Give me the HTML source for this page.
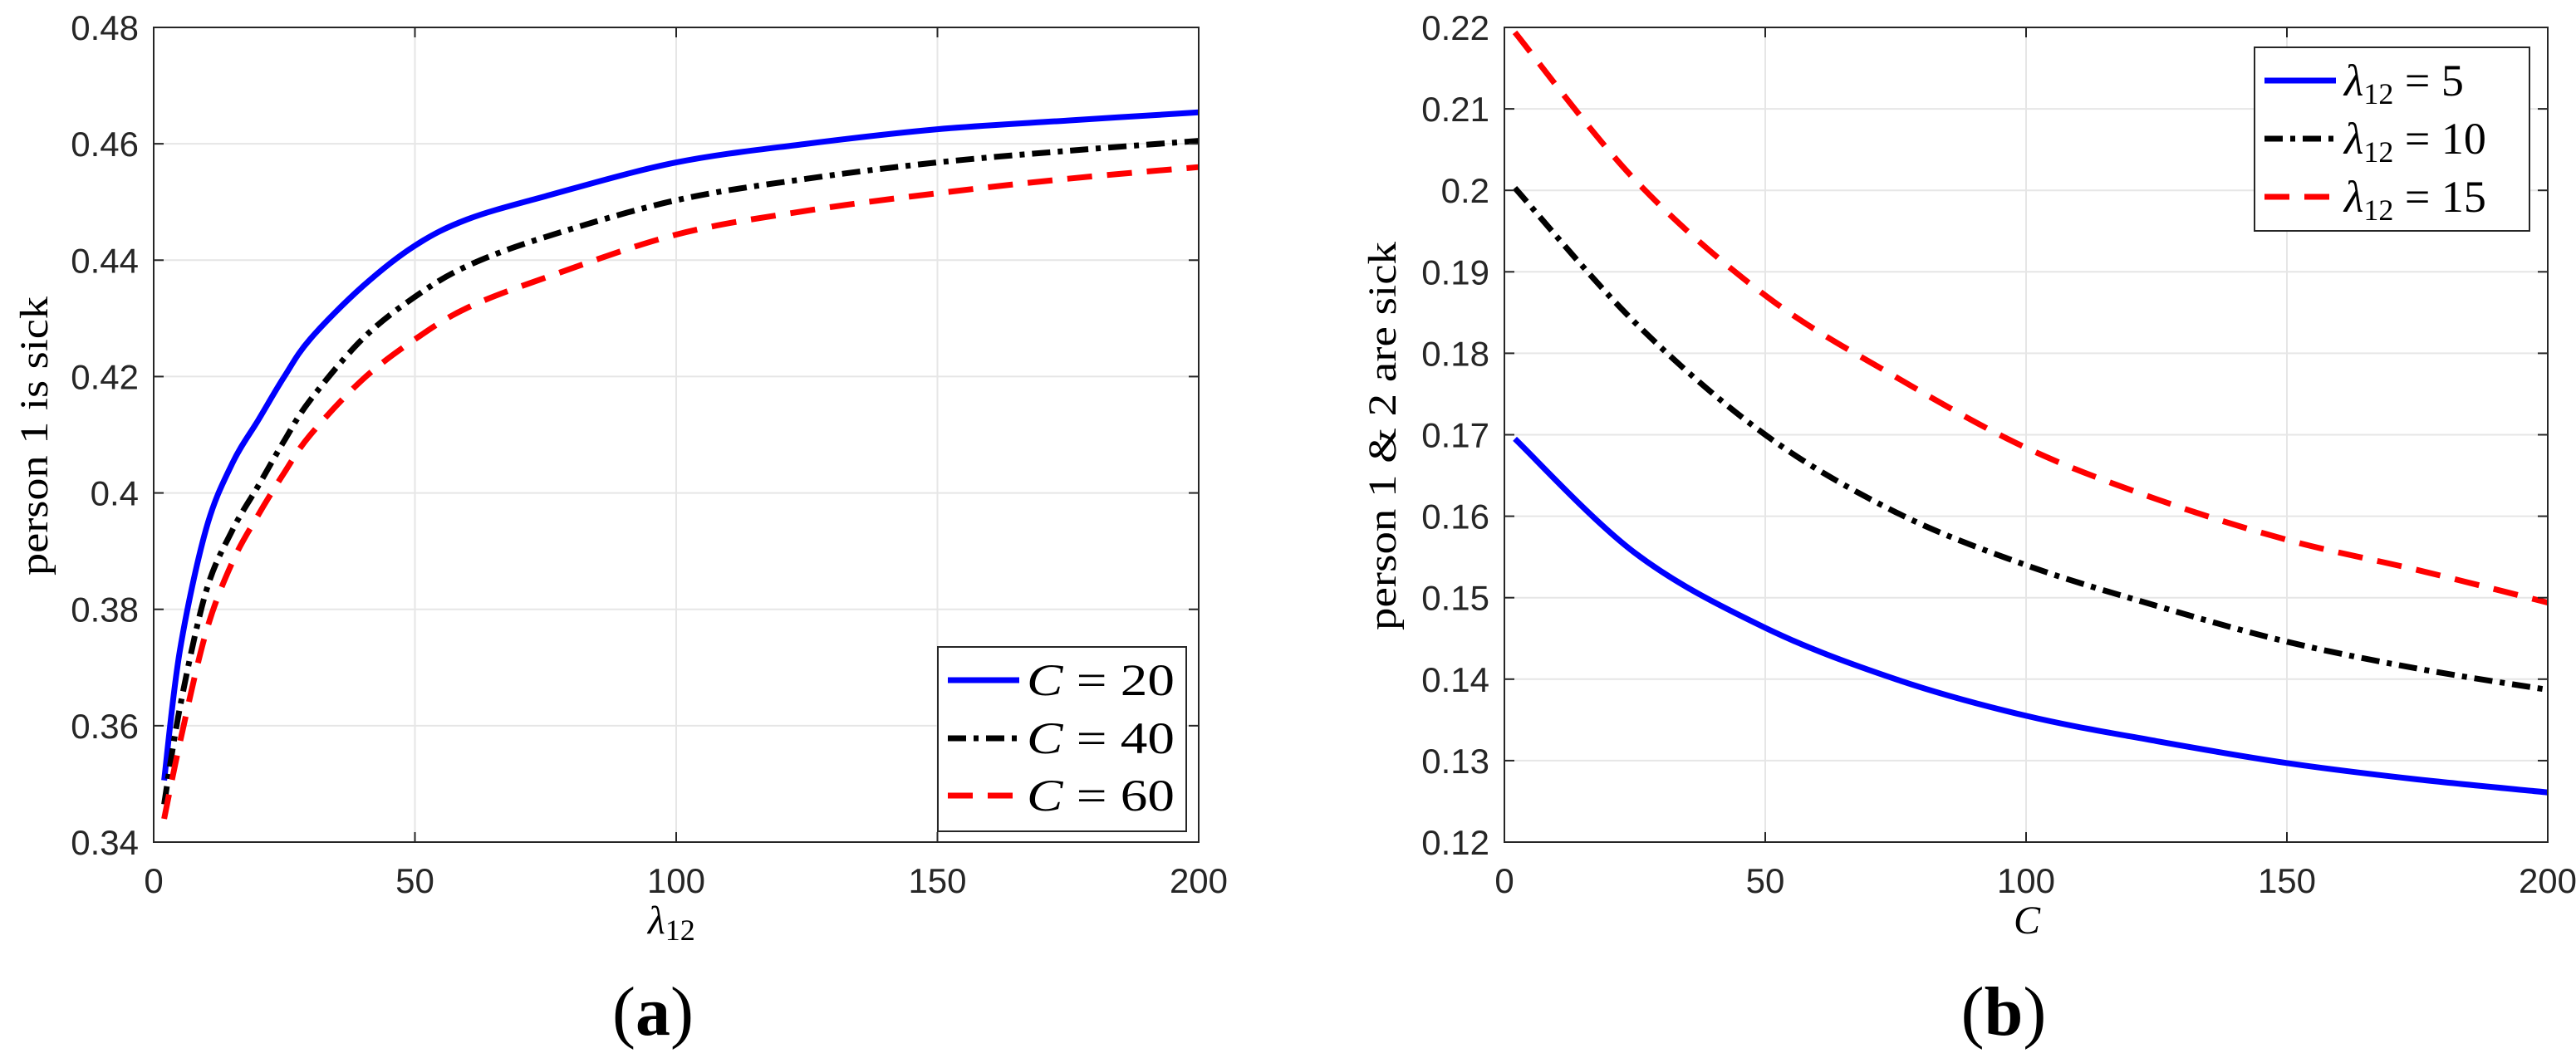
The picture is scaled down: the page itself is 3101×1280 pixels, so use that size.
<!DOCTYPE html>
<html><head><meta charset="utf-8"><style>
html,body{margin:0;padding:0;background:#fff;overflow:hidden;}
svg{display:block;}
.tick{font-family:"Liberation Sans",sans-serif;font-size:42px;fill:#262626;}
.lab{font-family:"Liberation Serif",serif;font-size:48px;fill:#000;}
.leg{font-family:"Liberation Serif",serif;font-size:54px;fill:#000;font-style:italic;}
.pan{font-family:"Liberation Serif",serif;font-size:84px;fill:#000;}
</style></head><body>
<div style="position:relative;width:3101px;height:1280px;">
<svg id="chart" width="3101" height="1280" viewBox="0 0 3101 1280" xmlns="http://www.w3.org/2000/svg" style="position:absolute;left:0;top:0"></svg>
<svg style="position:absolute;left:0;top:0" width="3101" height="1280" xmlns="http://www.w3.org/2000/svg">
  <g>
    <rect x="1129" y="779" width="299" height="222" fill="#fff" stroke="#262626" stroke-width="2"/>
    <line x1="1141" x2="1227" y1="819" y2="819" stroke="#0000ff" stroke-width="7"/>
    <line x1="1141" x2="1227" y1="889" y2="889" stroke="#000" stroke-width="7" stroke-dasharray="22 9 6 9"/>
    <line x1="1141" x2="1227" y1="958" y2="958" stroke="#ff0000" stroke-width="7" stroke-dasharray="30 18"/>
    <text class="leg" x="1236" y="837" textLength="178" lengthAdjust="spacingAndGlyphs">C <tspan font-style="normal">= 20</tspan></text>
    <text class="leg" x="1236" y="907" textLength="178" lengthAdjust="spacingAndGlyphs">C <tspan font-style="normal">= 40</tspan></text>
    <text class="leg" x="1236" y="976" textLength="178" lengthAdjust="spacingAndGlyphs">C <tspan font-style="normal">= 60</tspan></text>
  </g>
  <g>
    <rect x="2714" y="57" width="331" height="221" fill="#fff" stroke="#262626" stroke-width="2"/>
    <line x1="2726" x2="2812" y1="97" y2="97" stroke="#0000ff" stroke-width="7"/>
    <line x1="2726" x2="2812" y1="167" y2="167" stroke="#000" stroke-width="7" stroke-dasharray="22 9 6 9"/>
    <line x1="2726" x2="2812" y1="237" y2="237" stroke="#ff0000" stroke-width="7" stroke-dasharray="30 18"/>
    <text class="leg" x="2822" y="115">λ<tspan font-size="36" font-style="normal" dy="10">12</tspan><tspan font-style="normal" dy="-10"> = 5</tspan></text>
    <text class="leg" x="2822" y="185">λ<tspan font-size="36" font-style="normal" dy="10">12</tspan><tspan font-style="normal" dy="-10"> = 10</tspan></text>
    <text class="leg" x="2822" y="255">λ<tspan font-size="36" font-style="normal" dy="10">12</tspan><tspan font-style="normal" dy="-10"> = 15</tspan></text>
  </g>
  <text class="lab" x="780" y="1124" font-style="italic" font-size="54">λ<tspan font-size="36" font-style="normal" dy="8">12</tspan></text>
  <text class="lab" x="2440" y="1124" font-style="italic" font-size="54" text-anchor="middle">C</text>
  <text class="lab" transform="translate(57,525) rotate(-90)" text-anchor="middle" textLength="336" lengthAdjust="spacingAndGlyphs">person 1 is sick</text>
  <text class="lab" transform="translate(1680,525) rotate(-90)" text-anchor="middle" textLength="468" lengthAdjust="spacingAndGlyphs">person 1 &amp; 2 are sick</text>
  <text class="pan" x="786" y="1246" text-anchor="middle">(<tspan font-weight="bold">a</tspan>)</text>
  <text class="pan" x="2412" y="1246" text-anchor="middle">(<tspan font-weight="bold">b</tspan>)</text>
</svg>
</div>
<script>
// Panel (a) data
const lamX = [2,5,10,15,20,25,30,40,50,60,75,100,125,150,175,200];
const aC20 = [0.3506,0.3728,0.3937,0.4050,0.4125,0.4200,0.4265,0.4355,0.4425,0.4470,0.4510,0.4568,0.4600,0.4625,0.4640,0.4654];
const aC40 = [0.3465,0.3630,0.3830,0.3935,0.4012,0.4090,0.4160,0.4265,0.4337,0.4390,0.4440,0.4503,0.4540,0.4568,0.4588,0.4605];
const aC60 = [0.3440,0.3570,0.3760,0.3880,0.3962,0.4035,0.4100,0.4195,0.4264,0.4318,0.4370,0.4444,0.4485,0.4515,0.4540,0.4560];
const aXTicks = [0,50,100,150,200];
const aYTicks = ["0.34","0.36","0.38","0.4","0.42","0.44","0.46","0.48"];
// Panel (b) data
const cX = [2,25,50,75,100,125,150,175,200];
const bL5 = [0.1695,0.1555,0.1463,0.1400,0.1355,0.1324,0.1297,0.1277,0.1261];
const bL10 = [0.2003,0.1838,0.1700,0.1605,0.1540,0.1490,0.1446,0.1413,0.1387];
const bL15 = [0.2194,0.2013,0.1871,0.1771,0.1684,0.1621,0.1571,0.1534,0.1494];
const bXTicks = [0,50,100,150,200];
const bYTicks = ["0.12","0.13","0.14","0.15","0.16","0.17","0.18","0.19","0.2","0.21","0.22"];

const NS="http://www.w3.org/2000/svg";
const svg=document.getElementById('chart');
function mk(tag,attrs,parent){const e=document.createElementNS(NS,tag);for(const k in attrs)e.setAttribute(k,attrs[k]);(parent||svg).appendChild(e);return e;}
function smooth(P){
  let d='M'+P[0][0].toFixed(1)+','+P[0][1].toFixed(1);
  for(let i=0;i<P.length-1;i++){
    const p0=P[i-1]||P[i],p1=P[i],p2=P[i+1],p3=P[i+2]||P[i+1];
    const c1=[p1[0]+(p2[0]-p0[0])/6,p1[1]+(p2[1]-p0[1])/6];
    const c2=[p2[0]-(p3[0]-p1[0])/6,p2[1]-(p3[1]-p1[1])/6];
    d+=' C'+c1[0].toFixed(1)+','+c1[1].toFixed(1)+' '+c2[0].toFixed(1)+','+c2[1].toFixed(1)+' '+p2[0].toFixed(1)+','+p2[1].toFixed(1);
  }
  return d;
}
function panel(o){
  const g=mk('g',{});
  
  
  const sx=v=>o.x0+(v-o.xmin)/(o.xmax-o.xmin)*(o.x1-o.x0);
  const sy=v=>o.y1-(v-o.ymin)/(o.ymax-o.ymin)*(o.y1-o.y0);
  o.xticks.forEach(t=>{
    const l=mk('line',{x1:sx(t),x2:sx(t),y1:o.y0,y2:o.y1,stroke:'#e6e6e6','stroke-width':2},g);
    
    
  });
  o.yticks.forEach(t=>{
    const l=mk('line',{x1:o.x0,x2:o.x1,y1:sy(+t),y2:sy(+t),stroke:'#e6e6e6','stroke-width':2},g);
    
    
  });
  o.series.forEach(s=>{
    const P=o.xs.map((x,i)=>[sx(x),sy(s.v[i])]);
    const p=mk('path',{d:smooth(P),fill:'none',stroke:s.c,'stroke-width':7,'stroke-linejoin':'round','stroke-dasharray':s.d||'none'},g);
    
    
  });
  const r=mk('rect',{x:o.x0,y:o.y0,width:o.x1-o.x0,height:o.y1-o.y0,fill:'none',stroke:'#262626','stroke-width':2},g);
  
  
  o.xticks.forEach(t=>{
    mk('line',{x1:sx(t),x2:sx(t),y1:o.y1,y2:o.y1-12,stroke:'#262626','stroke-width':2},g);
    mk('line',{x1:sx(t),x2:sx(t),y1:o.y0,y2:o.y0+12,stroke:'#262626','stroke-width':2},g);
    const tx=mk('text',{x:sx(t),y:o.y1+61,'text-anchor':'middle',class:'tick'},g);tx.textContent=t;
    
    
  });
  o.yticks.forEach(t=>{
    mk('line',{x1:o.x0,x2:o.x0+12,y1:sy(+t),y2:sy(+t),stroke:'#262626','stroke-width':2},g);
    mk('line',{x1:o.x1,x2:o.x1-12,y1:sy(+t),y2:sy(+t),stroke:'#262626','stroke-width':2},g);
    const tx=mk('text',{x:o.x0-18,y:sy(+t)+15,'text-anchor':'end',class:'tick'},g);tx.textContent=t;
    
    
  });
}
panel({name:'panel-a',x0:185,x1:1443,y0:33,y1:1014,xmin:0,xmax:200,ymin:0.34,ymax:0.48,
  xticks:aXTicks,yticks:aYTicks,xs:lamX,series:[
  {n:'line-c20',c:'#0000ff',v:aC20},
  {n:'line-c40',c:'#000',v:aC40,d:'22 9 6 9'},
  {n:'line-c60',c:'#ff0000',v:aC60,d:'30 18'}]});
panel({name:'panel-b',x0:1811,x1:3067,y0:33,y1:1014,xmin:0,xmax:200,ymin:0.12,ymax:0.22,
  xticks:bXTicks,yticks:bYTicks,xs:cX,series:[
  {n:'line-lambda5',c:'#0000ff',v:bL5},
  {n:'line-lambda10',c:'#000',v:bL10,d:'22 9 6 9'},
  {n:'line-lambda15',c:'#ff0000',v:bL15,d:'30 18'}]});
</script>
</body></html>
